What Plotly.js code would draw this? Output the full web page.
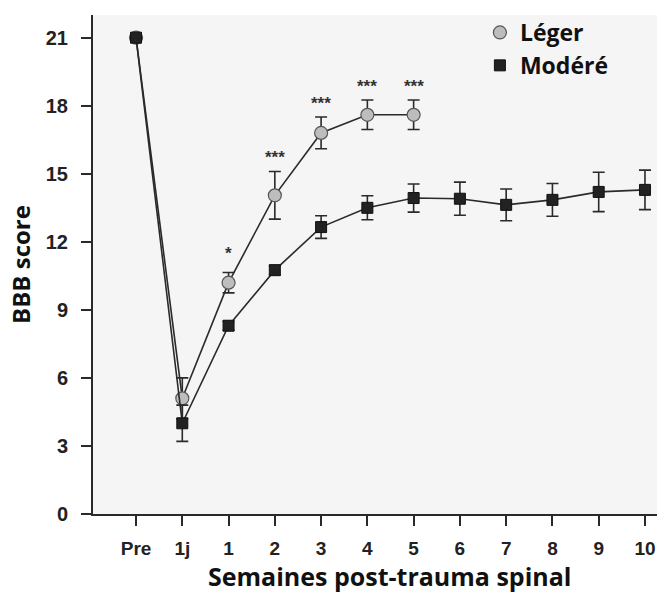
<!DOCTYPE html>
<html>
<head>
<meta charset="utf-8">
<script src="https://cdn.plot.ly/plotly-3.0.1.min.js"></script>
<style>html,body{margin:0;padding:0;background:#fff;}#chart{width:657px;height:593px;}</style>
</head>
<body>
<div id="chart"></div>
<script>
// Categories (time points)
const timepoints = ['Pre', '1j', '1', '2', '3', '4', '5', '6', '7', '8', '9', '10'];

// Léger (mild) group: mean BBB score and SEM
const legerX = ['Pre', '1j', '1', '2', '3', '4', '5'];
const legerY = [21, 5.1, 10.2, 14.05, 16.8, 17.6, 17.6];
const legerErr = [0, 0.9, 0.45, 1.05, 0.7, 0.65, 0.65];
const legerSig = ['', '', '*', '***', '***', '***', '***'];

// Modéré (moderate) group: mean BBB score and SEM
const modereX = timepoints;
const modereY = [21, 4.0, 8.3, 10.75, 12.65, 13.5, 13.93, 13.9, 13.63, 13.85, 14.2, 14.29];
const modereErr = [0, 0.8, 0.2, 0.2, 0.5, 0.53, 0.62, 0.73, 0.7, 0.72, 0.87, 0.87];

// y-axis ticks
const yTicks = [0, 3, 6, 9, 12, 15, 18, 21];

const lineCol = '#2a2a2a';
const circleMarker = {symbol: 'circle', size: 13, color: '#bdbdbd', line: {color: '#555', width: 1.2}};
const squareMarker = {symbol: 'square', size: 11, color: '#222222', line: {color: '#111', width: 1}};

// evenly spaced category positions on a linear axis
const idx = arr => arr.map(c => timepoints.indexOf(c));

const traces = [
  {
    type: 'scatter', mode: 'lines+markers', name: 'Léger', showlegend: false,
    x: idx(legerX), y: legerY,
    error_y: {type: 'data', array: legerErr, visible: true, color: lineCol, thickness: 1.6, width: 6},
    line: {color: lineCol, width: 1.6},
    marker: circleMarker
  },
  {
    type: 'scatter', mode: 'lines+markers', name: 'Modéré', showlegend: false,
    x: idx(modereX), y: modereY,
    error_y: {type: 'data', array: modereErr, visible: true, color: lineCol, thickness: 1.6, width: 6},
    line: {color: lineCol, width: 1.6},
    marker: squareMarker
  },
  // legend entries (markers only)
  {type: 'scatter', mode: 'markers', name: 'Léger', x: [null], y: [null], marker: circleMarker},
  {type: 'scatter', mode: 'markers', name: 'Modéré', x: [null], y: [null], marker: squareMarker}
];

const annotations = legerSig.map((s, i) => ({
  x: timepoints.indexOf(legerX[i]), y: legerY[i] + legerErr[i], xref: 'x', yref: 'y',
  text: s, showarrow: false, yanchor: 'middle', yshift: s.length === 1 ? 19 : 14,
  font: {family: 'Liberation Sans, Arial', size: 17, color: '#333', weight: 'bold'}
})).filter(a => a.text !== '');

annotations.push({
  xref: 'paper', yref: 'paper', x: 0.525, y: -0.125, xanchor: 'center', yanchor: 'middle',
  text: 'Semaines post-trauma spinal', showarrow: false,
  font: {family: 'Open Sans, Noto Sans, sans-serif', size: 25, color: '#111', weight: 'bold'}
});

const layout = {
  width: 657, height: 593,
  margin: {l: 93, r: 0, t: 15, b: 79},
  paper_bgcolor: '#ffffff',
  plot_bgcolor: '#f5f5f5',
  showlegend: true,
  legend: {
    x: 0.686, y: 1.008, xanchor: 'left', yanchor: 'top',
    bgcolor: 'rgba(0,0,0,0)',
    font: {family: 'Open Sans, Noto Sans, sans-serif', size: 23, color: '#111', weight: 'bold'},
    itemwidth: 30, tracegroupgap: 0
  },
  xaxis: {
    type: 'linear',
    tickmode: 'array', tickvals: idx(timepoints), ticktext: timepoints,
    range: [-0.93, 11.26],
    showgrid: false, zeroline: false,
    showline: true, linecolor: lineCol, linewidth: 2,
    ticks: 'outside', ticklen: 10, tickwidth: 2, tickcolor: lineCol,
    ticklabelstandoff: 6,
    tickfont: {family: 'Liberation Sans, Arial', size: 19, color: '#222', weight: 'bold'},
    title: {text: ''}
  },
  yaxis: {
    range: [0, 22], tickmode: 'array', tickvals: yTicks,
    showgrid: false, zeroline: false,
    showline: true, linecolor: lineCol, linewidth: 2,
    ticks: 'outside', ticklen: 10, tickwidth: 2, tickcolor: lineCol,
    ticklabelstandoff: 9,
    tickfont: {family: 'Liberation Sans, Arial', size: 20, color: '#222', weight: 'bold'},
    title: {text: 'BBB score', standoff: 8,
      font: {family: 'Open Sans, Noto Sans, sans-serif', size: 24, color: '#111', weight: 'bold'}}
  },
  annotations: annotations
};

Plotly.newPlot('chart', traces, layout, {displayModeBar: false, staticPlot: true});
</script>
</body>
</html>
